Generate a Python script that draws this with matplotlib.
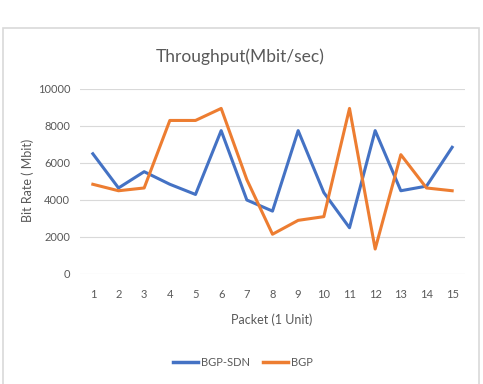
import matplotlib.pyplot as plt
from matplotlib.patches import Rectangle
from matplotlib.lines import Line2D

packets = list(range(1, 16))
bgp_sdn = [6500, 4650, 5530, 4850, 4300, 7750, 4000, 3400, 7750, 4400, 2500, 7750, 4500, 4750, 6850]
bgp = [4850, 4500, 4650, 8300, 8300, 8950, 5100, 2150, 2900, 3100, 8950, 1350, 6450, 4650, 4500]

BLUE = "#4472C4"
ORANGE = "#ED7D31"
GRAY = "#595959"

plt.rcParams['font.family'] = ['Lato', 'DejaVu Sans']

fig = plt.figure(figsize=(4.83, 3.84), dpi=100)
ax = fig.add_axes([80 / 483, 1 - 274 / 384, 385 / 483, 185 / 384])

# chart-area frame like the Excel export
fig.patches.append(Rectangle((3 / 483, -0.05), 476 / 483, 1 - 28 / 384 + 0.05,
                             transform=fig.transFigure, fill=False,
                             edgecolor="#d9d9d9", lw=1.2, clip_on=False))

ax.plot(packets, bgp_sdn, color=BLUE, lw=2.2, solid_joinstyle='round', label="BGP-SDN")
ax.plot(packets, bgp, color=ORANGE, lw=2.2, solid_joinstyle='round', label="BGP")

ax.set_xlim(0.5, 15.5)
ax.set_ylim(0, 10000)
ax.set_yticks(range(0, 10001, 2000))
ax.set_xticks(packets)
ax.grid(axis='y', color="#d9d9d9", lw=0.8)
ax.set_axisbelow(True)
for s in ax.spines.values():
    s.set_visible(False)
ax.tick_params(length=0, colors=GRAY, labelsize=8)
ax.tick_params(axis='x', pad=11)
ax.tick_params(axis='y', pad=7)

fig.text(240 / 483, 1 - 57 / 384, "Throughput(Mbit/sec)", ha='center', va='center',
         fontsize=12.5, color=GRAY)
fig.text(28 / 483, 1 - 180 / 384, "Bit Rate ( Mbit)", ha='center', va='center',
         rotation=90, fontsize=9, color=GRAY)
fig.text(272 / 483, 1 - 320 / 384, "Packet (1 Unit)", ha='center', va='center',
         fontsize=9, color=GRAY)

handles = [Line2D([], [], color=BLUE, lw=2.5), Line2D([], [], color=ORANGE, lw=2.5)]
fig.legend(handles, ["BGP-SDN", "BGP"], loc='center', bbox_to_anchor=(243 / 483, 1 - 362 / 384),
           ncol=2, frameon=False, fontsize=8, labelcolor=GRAY, handlelength=2.2,
           handletextpad=0.3, columnspacing=1.2)

fig.savefig("out.png", dpi=100)
